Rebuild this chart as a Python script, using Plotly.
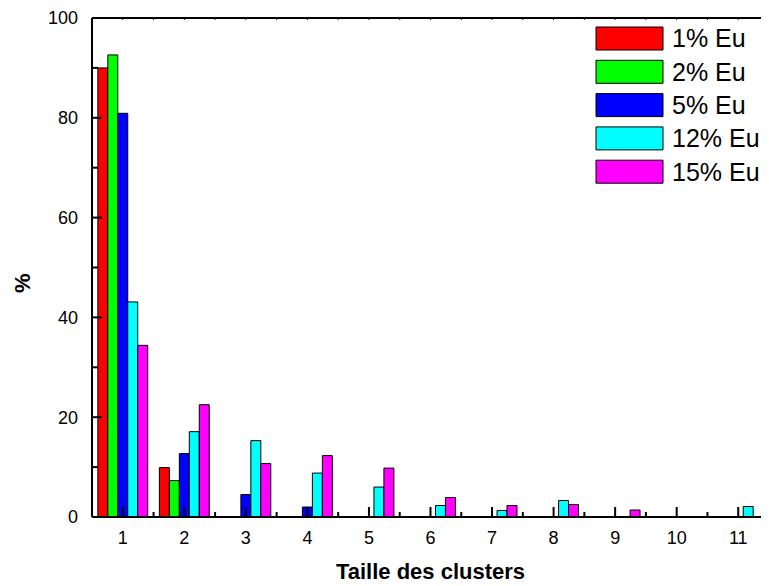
import plotly.graph_objects as go

sizes = [1, 2, 3, 4, 5, 6, 7, 8, 9, 10, 11]
series_names = ["1% Eu", "2% Eu", "5% Eu", "12% Eu", "15% Eu"]
eu1 = [90.0, 9.9, 0, 0, 0, 0, 0, 0, 0, 0, 0]
eu2 = [92.6, 7.3, 0, 0, 0, 0, 0, 0, 0, 0, 0]
eu5 = [80.9, 12.7, 4.5, 2.0, 0, 0, 0, 0, 0, 0, 0]
eu12 = [43.1, 17.1, 15.3, 8.8, 6.0, 2.3, 1.3, 3.3, 0, 0, 2.1]
eu15 = [34.4, 22.5, 10.7, 12.3, 9.8, 3.9, 2.3, 2.5, 1.4, 0, 0]
series_values = [eu1, eu2, eu5, eu12, eu15]
colors = ["#ff0000", "#00ff00", "#0000ff", "#00ffff", "#ff00ff"]

x_major = [1, 2, 3, 4, 5, 6, 7, 8, 9, 10, 11]
x_minor = [1.5, 2.5, 3.5, 4.5, 5.5, 6.5, 7.5, 8.5, 9.5, 10.5]
y_major = [0, 20, 40, 60, 80, 100]
y_minor = [10, 30, 50, 70, 90]

OFF = 8  # page body margin
W, H = 769 - OFF, 586 - OFF
ML, MR, MT, MB = 92 - OFF, 0, 18 - OFF, 69
PW, PH = W - ML - MR, H - MT - MB

fig = go.Figure()
for name, vals, col in zip(series_names, series_values, colors):
    fig.add_trace(go.Bar(x=sizes, y=vals, name=name, marker=dict(color=col, line=dict(color="black", width=1))))

def px2paper(x, y):
    x -= OFF
    y -= OFF
    return (x - ML) / PW, (H - MB - y) / PH

# frame (left, bottom, top) and inside ticks
LW = 2
for x0, y0, x1, y1 in ((0, 0, 0, 1), (0, 0, 1, 0), (0, 1, 1, 1)):
    fig.add_shape(type="line", xref="paper", yref="paper", x0=x0, y0=y0, x1=x1, y1=y1,
                  line=dict(color="black", width=LW), layer="above")
for vals, ln in ((x_major, 10), (x_minor, 5)):
    for v in vals:
        fig.add_shape(type="line", xref="x", yref="paper", x0=v, x1=v, y0=0, y1=ln / PH,
                      line=dict(color="black", width=LW), layer="above")
        fig.add_shape(type="line", xref="x", yref="paper", x0=v, x1=v, y0=1, y1=1 - 2 / PH,
                      line=dict(color="black", width=1), layer="above")
for vals, ln in ((y_major, 10), (y_minor, 6)):
    for v in vals:
        fig.add_shape(type="line", xref="paper", yref="y", x0=0, x1=ln / PW, y0=v, y1=v,
                      line=dict(color="black", width=LW), layer="above")

# custom legend (large boxes) built from series names/colors
for i, (name, col) in enumerate(zip(series_names, colors)):
    top = 27 + 33.3 * i
    x0, y1 = px2paper(596, top)
    x1, y0 = px2paper(663, top + 23)
    fig.add_shape(type="rect", xref="paper", yref="paper", x0=x0, x1=x1, y0=y0, y1=y1,
                  fillcolor=col, line=dict(color="black", width=1))
    tx, ty = px2paper(670, top + 11.5)
    fig.add_annotation(xref="paper", yref="paper", x=tx, y=ty, text=name, showarrow=False,
                       xanchor="left", yanchor="middle", font=dict(size=25, color="black"))

# y axis title
tx, ty = px2paper(22, 283)
fig.add_annotation(xref="paper", yref="paper", x=tx, y=ty, text="<b>%</b>", showarrow=False,
                   textangle=-90, xanchor="center", yanchor="middle", font=dict(size=22, color="black"))

fig.update_layout(
    width=W, height=H, margin=dict(l=ML, r=MR, t=MT, b=MB),
    paper_bgcolor="white", plot_bgcolor="white",
    font=dict(family="Liberation Sans, Arial, sans-serif", color="black"),
    barmode="group", bargap=0.19, bargroupgap=0, showlegend=False,
    xaxis=dict(showline=False, ticks="", showgrid=False, zeroline=False,
               tickfont=dict(size=18), range=[0.5, 11.5], tickmode="array", tickvals=x_major,
               ticklabelstandoff=8,
               title=dict(text="<b>Taille des clusters</b>", font=dict(size=22), standoff=16)),
    yaxis=dict(showline=False, ticks="", showgrid=False, zeroline=False,
               tickfont=dict(size=18), range=[0, 100], tickmode="array", tickvals=y_major,
               ticklabelstandoff=13),
)

fig.write_html("out.html")
